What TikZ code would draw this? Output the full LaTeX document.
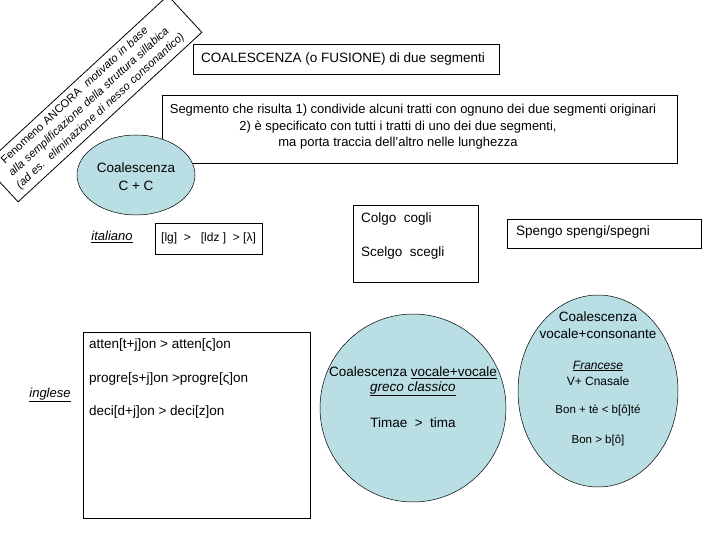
\documentclass[tikz,border=0pt]{standalone}
\usepackage{fontspec}
\setmainfont{Liberation Sans}
\usetikzlibrary{shapes.geometric}
\definecolor{ellblue}{RGB}{185,222,227}
\begin{document}
\begin{tikzpicture}[x=1pt,y=-1pt,
  box/.style={draw, line width=0.8pt, rectangle, inner sep=0pt},
  ell/.style={draw, line width=0.5pt, ellipse, fill=ellblue, inner sep=0pt},
  txt/.style={inner sep=0pt, font=\fontsize{13}{15}\selectfont},
  big/.style={inner sep=0pt, font=\fontsize{13.5}{16}\selectfont},
  small/.style={inner sep=0pt, font=\fontsize{11.5}{13}\selectfont},
  mid/.style={inner sep=0pt, font=\fontsize{12}{14}\selectfont}]
\useasboundingbox (0,0) rectangle (720,540);
% rotated note
\node[box, fill=white, rotate=42.7, minimum width=250pt, minimum height=50pt,
      text width=238pt, align=left, font=\fontsize{11.2}{14.5}\selectfont] (rot) at (93,98.7)
  {\hspace*{10pt}Fenomeno ANCORA\ \ \textit{motivato in base}\\
   \hspace*{7pt}\textit{alla semplificazione della struttura sillabica}\\
   \hspace*{4pt}\textit{(ad es.\ \ eliminazione di nesso consonantico)}};
% title
\node[box, minimum width=306pt, minimum height=30pt] (title) at (346,59) {};
\node[big, anchor=west] (titletxt) at (201,59) {COALESCENZA (o FUSIONE) di due segmenti};
% definition
\node[box, minimum width=515pt, minimum height=68pt] (seg) at (419.5,129) {};
\node[txt] (seg1) at (413,110) {Segmento che risulta 1) condivide alcuni tratti con ognuno dei due segmenti originari};
\node[txt] (seg2) at (398,127) {2) è specificato con tutti i tratti di uno dei due segmenti,};
\node[txt] (seg3) at (398,143) {ma porta traccia dell'altro nelle lunghezza};
% C+C ellipse
\node[ell, minimum width=118pt, minimum height=80pt] (cc) at (136,175) {};
\node[big, align=center, font=\fontsize{13.5}{18}\selectfont] (cctxt) at (136,177) {Coalescenza\\C + C};
% italiano
\node[txt] (ita) at (112,237) {\underline{\textit{italiano}}};
\node[box, minimum width=107pt, minimum height=31pt] (lg) at (208.5,238.5) {};
\node[mid, anchor=west] (lgtxt) at (161,238) {[lg]\ \ >\ \ \ [ldz\ ]\ \ > [λ]};
% colgo
\node[box, minimum width=125pt, minimum height=77pt, anchor=north west] (colgo) at (353,205) {};
\node[big, anchor=west] (colgo1) at (361,219) {Colgo\ \ cogli};
\node[big, anchor=west] (colgo2) at (361,253) {Scelgo\ \ scegli};
% spengo
\node[box, minimum width=194pt, minimum height=29pt] (spengo) at (604,233.5) {};
\node[big, anchor=west] (spengotxt) at (516,232) {Spengo spengi/spegni};
% inglese
\node[txt] (ingl) at (50,395) {\underline{\textit{inglese}}};
\node[box, minimum width=227pt, minimum height=186pt, anchor=north west] (ing) at (83,332) {};
\node[big, anchor=west] (ing1) at (89,345) {atten[t+j]on > atten[ς]on};
\node[big, anchor=west] (ing2) at (89,379) {progre[s+j]on >progre[ς]on};
\node[big, anchor=west] (ing3) at (89,412) {deci[d+j]on > deci[z]on};
% vocale+vocale
\node[ell, minimum width=186pt, minimum height=188pt] (vv) at (413,408) {};
\node[big] (vv1) at (413,373) {Coalescenza \underline{vocale+vocale}};
\node[big] (vv2) at (413,389) {\underline{\textit{greco classico}}};
\node[big] (vv3) at (413,423) {Timae\ \ >\ \ tima};
% vocale+consonante
\node[ell, minimum width=160pt, minimum height=192pt] (vc) at (598,391) {};
\node[big] (vc1) at (598,317) {Coalescenza};
\node[big] (vc2) at (598,334) {vocale+consonante};
\node[mid] (vc3) at (598,366) {\underline{\textit{Francese}}};
\node[mid] (vc4) at (598,381) {V+ Cnasale};
\node[small] (vc5) at (598,410) {Bon + tè < b[ô]té};
\node[small] (vc6) at (598,441) {Bon > b[ô]};
\end{tikzpicture}
\end{document}
